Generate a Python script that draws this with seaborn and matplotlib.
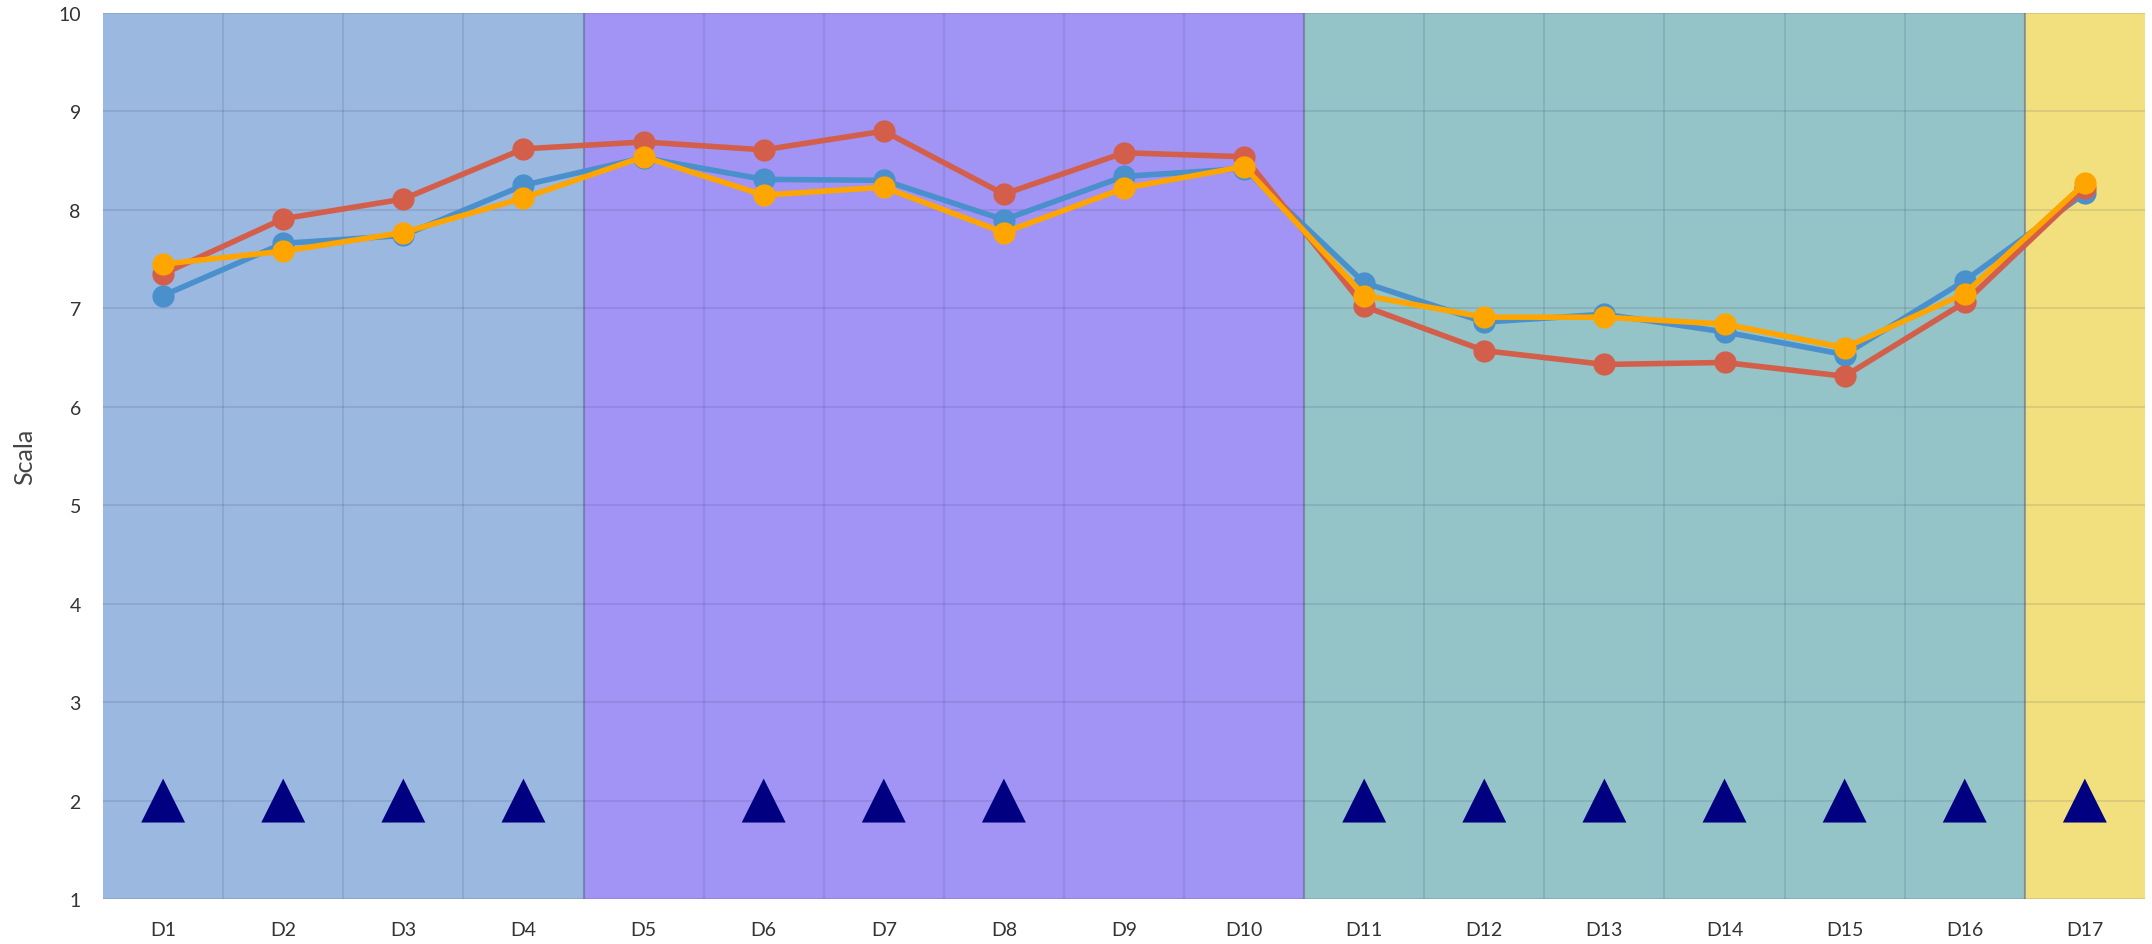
import numpy as np
import pandas as pd
import matplotlib
matplotlib.use("Agg")
import matplotlib.pyplot as plt
import seaborn as sns

days = ["D1", "D2", "D3", "D4", "D5", "D6", "D7", "D8", "D9", "D10",
        "D11", "D12", "D13", "D14", "D15", "D16", "D17"]
series_blue = [7.13, 7.66, 7.74, 8.25, 8.53, 8.31, 8.30, 7.90, 8.34, 8.42,
               7.26, 6.86, 6.94, 6.76, 6.53, 7.28, 8.17]
series_red = [7.35, 7.91, 8.11, 8.62, 8.69, 8.61, 8.80, 8.16, 8.58, 8.54,
              7.02, 6.57, 6.43, 6.45, 6.31, 7.06, 8.22]
series_orange = [7.45, 7.58, 7.77, 8.12, 8.54, 8.15, 8.23, 7.77, 8.22, 8.44,
                 7.13, 6.91, 6.91, 6.84, 6.60, 7.15, 8.27]
markers_y = [2, 2, 2, 2, np.nan, 2, 2, 2, np.nan, np.nan,
             2, 2, 2, 2, 2, 2, 2]
# background phases: (first day index, last day index, colour)
phases = [(0, 3, "#9BB8E0"), (4, 9, "#A294F5"), (10, 15, "#94C3C8"), (16, 16, "#F2E07E")]
y_ticks = [1, 2, 3, 4, 5, 6, 7, 8, 9, 10]

sns.set_theme(style="white")
plt.rcParams["font.family"] = ["Lato", "DejaVu Sans"]

fig = plt.figure(figsize=(21.52, 9.45), dpi=100)
ax = fig.add_axes([0.0479, 0.0476, 0.9488, 0.9376])

df = pd.DataFrame({"day": days, "blue": series_blue, "red": series_red,
                   "orange": series_orange, "mark": markers_y})

for col, color in [("blue", "#4A90CD"), ("red", "#D35F4A"), ("orange", "#FFA500")]:
    sns.lineplot(data=df, x="day", y=col, ax=ax, color=color, linewidth=4,
                 marker="o", markersize=16, markeredgewidth=0, zorder=3, sort=False)

sns.scatterplot(data=df, x="day", y="mark", ax=ax, marker="^", s=1000,
                color="#000080", edgecolor="none", zorder=4)

for a, b, c in phases:
    ax.axvspan(a - 0.5, b + 0.5, color=c, zorder=0, lw=0)
for a, b, c in phases[1:]:
    ax.axvline(a - 0.5, color="#6a6a8a", alpha=0.45, lw=1.5, zorder=1)

for i in range(len(days) - 1):
    ax.axvline(i + 0.5, color="#2a3a5a", alpha=0.12, lw=1.5, zorder=1)
for t in y_ticks:
    ax.axhline(t, color="#2a3a5a", alpha=0.12, lw=1.5, zorder=1)

ax.set_xlim(-0.5, len(days) - 0.5)
ax.set_ylim(1, 10)
ax.set_yticks(y_ticks)
ax.set_yticklabels([str(t) for t in y_ticks])
ax.set_xlabel("")
ax.set_ylabel("Scala", fontsize=18, color="#444444", labelpad=16)
ax.tick_params(axis="both", length=0, labelsize=14, colors="#333333")
ax.tick_params(axis="x", pad=16)
ax.tick_params(axis="y", pad=16)
for s in ax.spines.values():
    s.set_visible(False)
ax.grid(False)

fig.savefig("out.png", dpi=100)
